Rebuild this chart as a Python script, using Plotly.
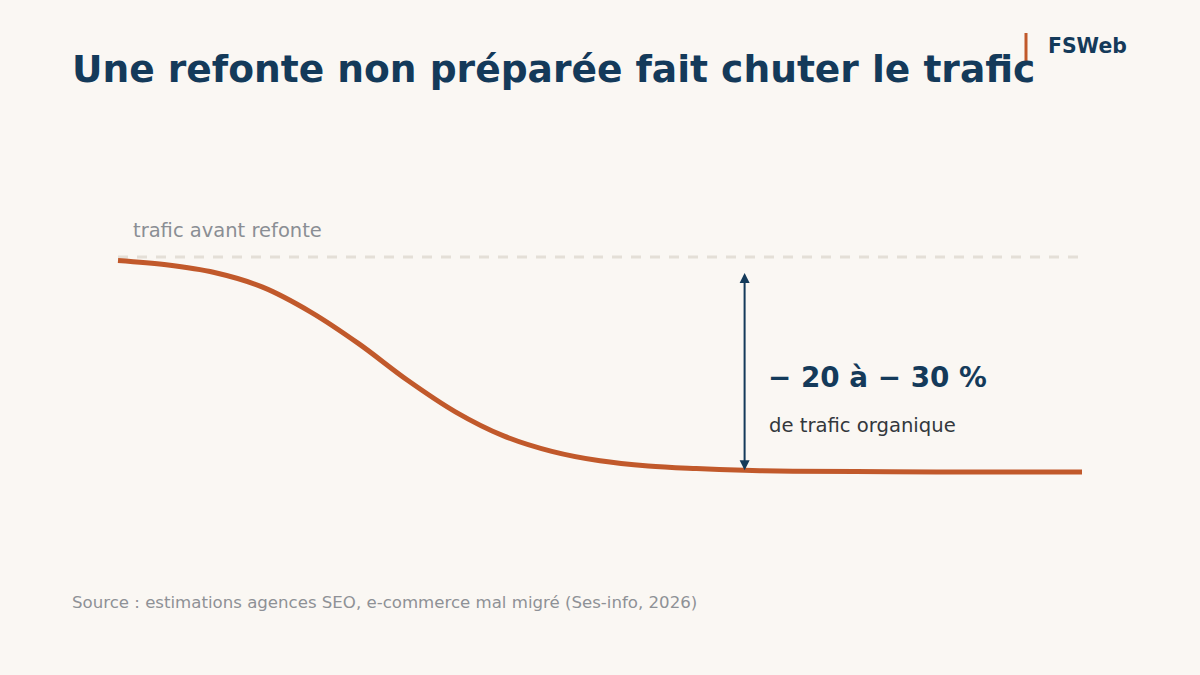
import plotly.graph_objects as go

# Data: organic traffic index over time (before = 100)
time_idx = [0, 5, 10, 15, 20, 25, 30, 35, 40, 45, 50, 55, 60, 65, 70, 80, 90, 100]
traffic = [99.6, 99.1, 98.2, 96.5, 93.6, 89.9, 85.7, 82.0, 79.2, 77.4, 76.3, 75.7,
           75.4, 75.2, 75.1, 75.03, 75.0, 75.0]
baseline_value = 100
baseline_label = "trafic avant refonte"
drop_label = "− 20 à − 30 %"
drop_sub = "de trafic organique"
arrow_x = 65
arrow_top = 98.3
arrow_bottom = 75.2

title = "Une refonte non préparée fait chuter le trafic"
source = "Source : estimations agences SEO, e-commerce mal migré (Ses-info, 2026)"
brand = "FSWeb"

NAVY = "#143A5A"
ORANGE = "#C1592B"
BG = "#FAF7F3"
FONT = "DejaVu Sans"

fig = go.Figure()

fig.add_trace(go.Scatter(
    x=[0, 100], y=[baseline_value, baseline_value], mode="lines",
    line=dict(color="#E4DFD7", width=3, dash="10px,9px"),
    hoverinfo="skip", showlegend=False,
))
fig.add_trace(go.Scatter(
    x=time_idx, y=traffic, mode="lines",
    line=dict(color=ORANGE, width=5, shape="spline", smoothing=1.0),
    hoverinfo="skip", showlegend=False, cliponaxis=False,
))

fig.add_annotation(
    x=arrow_x, y=arrow_bottom, ax=arrow_x, ay=arrow_top,
    xref="x", yref="y", axref="x", ayref="y",
    showarrow=True, arrowhead=2, arrowside="end+start", arrowsize=1,
    arrowwidth=2, arrowcolor=NAVY, text="",
)

# texts (pixel positions, converted to paper coords below)
fig.add_annotation(x=131, y=230, text=baseline_label,
                   showarrow=False, xanchor="left", yanchor="middle",
                   font=dict(family=FONT, size=19.5, color="#8A8E94"))
fig.add_annotation(x=766, y=377, text="<b>" + drop_label + "</b>", showarrow=False,
                   xanchor="left", yanchor="middle",
                   font=dict(family=FONT, size=27.8, color=NAVY))
fig.add_annotation(x=767, y=425, text=drop_sub, showarrow=False,
                   xanchor="left", yanchor="middle",
                   font=dict(family=FONT, size=19.6, color="#33373C"))
fig.add_annotation(x=70, y=69, text="<b>" + title + "</b>", showarrow=False,
                   xanchor="left", yanchor="middle",
                   font=dict(family=FONT, size=37.6, color=NAVY))
fig.add_annotation(x=1046, y=46, text="<b>" + brand + "</b>", showarrow=False,
                   xanchor="left", yanchor="middle",
                   font=dict(family=FONT, size=20.4, color=NAVY))
fig.add_annotation(x=70, y=602, text=source, showarrow=False,
                   xanchor="left", yanchor="middle",
                   font=dict(family=FONT, size=16.6, color="#8E9196"))

W, H = 1200, 675
L, R, T, B = 100, 100, 230, 175
pw, ph = W - L - R, H - T - B
for a in fig.layout.annotations:
    if a.text == "":
        continue
    a.xref = "paper"
    a.yref = "paper"
    a.x = (a.x - L) / pw
    a.y = (H - B - a.y) / ph

fig.add_shape(type="line", xref="paper", yref="paper",
              x0=(1026 - L) / pw, x1=(1026 - L) / pw,
              y0=(H - B - 33) / ph, y1=(H - B - 61) / ph,
              line=dict(color=ORANGE, width=3))

fig.update_layout(
    width=W, height=H,
    margin=dict(l=L, r=R, t=T, b=B),
    paper_bgcolor=BG, plot_bgcolor=BG,
    xaxis=dict(range=[-18 / 9.64, 100 + 18 / 9.64], visible=False, fixedrange=True),
    yaxis=dict(range=[75 - 28 / 8.6, 100 + 27 / 8.6], visible=False, fixedrange=True),
    showlegend=False,
)

fig.write_html("out.html")
